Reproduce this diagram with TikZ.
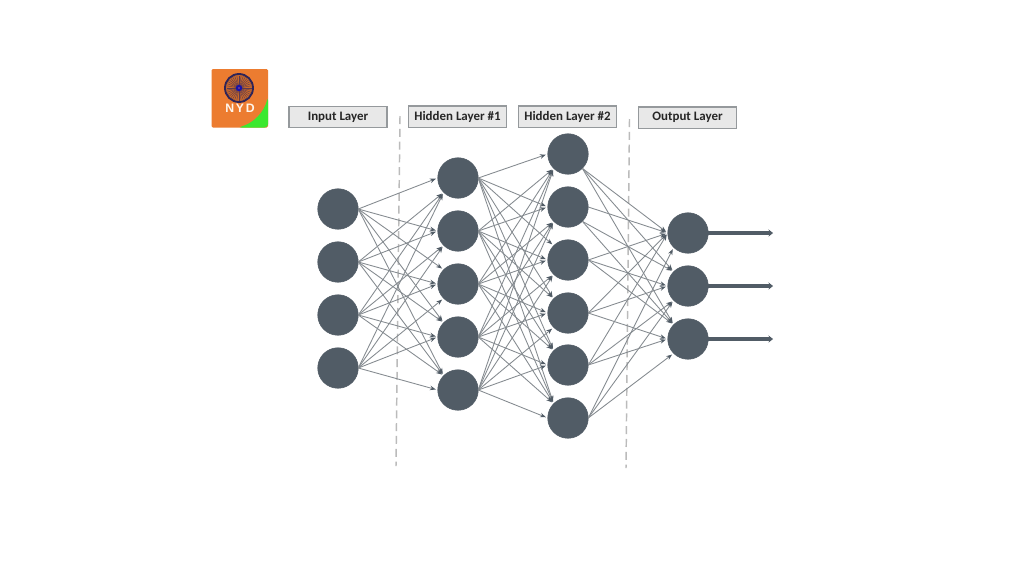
\documentclass[tikz,border=0pt]{standalone}
\usepackage{fontspec}
\setmainfont{Carlito}
\newfontfamily\logofont[LetterSpace=14]{Liberation Sans}
\usetikzlibrary{arrows.meta}
\definecolor{neuron}{HTML}{515C66}
\definecolor{edgecol}{HTML}{858B90}
\definecolor{boxfill}{HTML}{E8E8E8}
\definecolor{boxline}{HTML}{95999C}
\definecolor{dashcol}{HTML}{BBBBBB}
\definecolor{logoor}{HTML}{EC7C30}
\definecolor{logogr}{HTML}{3BE82E}
\definecolor{wheel}{HTML}{2E2458}
\tikzset{
  neuronnode/.style={circle,fill=neuron,draw=neuron,minimum size=30.4pt,inner sep=0pt,outer sep=0pt},
  layerbox/.style={draw=boxline,line width=0.8pt,fill=boxfill,minimum width=73.5pt,minimum height=15.8pt,inner sep=0pt,font=\bfseries\fontsize{9.7}{10}\selectfont,text=black!85},
  link/.style={draw=edgecol,line width=0.65pt,shorten >=1.5pt,-{Stealth[length=4.4pt,width=3.4pt,color=neuron]}},
  outlink/.style={draw=neuron,line width=3.1pt,-{Stealth[length=3.4pt,width=5.4pt]}},
  sep/.style={draw=dashcol,line width=1.1pt,dash pattern=on 6pt off 3.6pt},
}
\begin{document}
\begin{tikzpicture}[x=0.75pt,y=-0.75pt]
\useasboundingbox (0,0) rectangle (1024,576);
\fill[white] (0,0) rectangle (1024,576);
% logo
\fill[logoor,rounded corners=1pt] (211.5,69) rectangle (268,127.5);
\fill[logogr,rounded corners=2.5pt] (268,97) .. controls (264,112) and (254,123) .. (238,127.5) -- (268,127.5) -- cycle;
\fill[logoor!85!black] (239,88) circle (13.5);
\foreach \a in {0,10,...,350}{\draw[wheel!75!logoor,line width=0.3pt] (239,88) -- ++(\a:12.5);}
\draw[wheel,line width=1.4pt] (239,88) circle (14);
\fill[blue!50!wheel] (239,88) circle (3.2);
\fill[logoor!50!blue] (239,88) circle (1.2);
\node[font=\logofont\bfseries\fontsize{9.2}{10}\selectfont,text=white!92!orange,inner sep=0pt] (logotext) at (240,108.5) {NYD};
% boxes
\node[layerbox] (bi) at (338,117) {\raisebox{-1.1pt}{Input Layer}};
\node[layerbox] (bh1) at (457.5,116.5) {\raisebox{-1.1pt}{Hidden Layer \#1}};
\node[layerbox] (bh2) at (567.5,116.5) {\raisebox{-1.1pt}{Hidden Layer \#2}};
\node[layerbox] (bo) at (687.5,117.5) {\raisebox{-1.1pt}{Output Layer}};
% separators
\coordinate (s1a) at (400,116); \coordinate (s1b) at (396,466);
\coordinate (s2a) at (629.5,119); \coordinate (s2b) at (626,468);
\draw[sep] (s1a) -- (s1b);
\draw[sep] (s2a) -- (s2b);
% neurons
\foreach \n/\y in {1/209,2/262,3/315,4/368} \node[neuronnode] (i\n) at (338,\y) {};
\foreach \n/\y in {1/178,2/231,3/284,4/337,5/390} \node[neuronnode] (a\n) at (458,\y) {};
\foreach \n/\y in {1/154,2/207,3/260,4/313,5/365,6/418} \node[neuronnode] (b\n) at (568,\y) {};
\foreach \n/\y in {1/233,2/286,3/339} \node[neuronnode] (o\n) at (688,\y) {};
% links: input -> hidden 1
\foreach \p in {1,...,4}\foreach \q in {1,...,5}{
  \pgfmathtruncatemacro\dd{\q-\p}
  \ifnum\dd<0 \def\an{225}\else\ifnum\dd>1 \def\an{135}\else\def\an{180}\fi\fi
  \draw[link] (i\p.east) -- (a\q.\an);
}
% links: hidden 1 -> hidden 2
\foreach \p in {1,...,5}\foreach \q in {1,...,6}{
  \pgfmathtruncatemacro\dd{\q-\p}
  \ifnum\dd<0 \def\an{225}\else\ifnum\dd>1 \def\an{135}\else\def\an{180}\fi\fi
  \draw[link] (a\p.east) -- (b\q.\an);
}
% links: hidden 2 -> output
\foreach \s/\t in {
  b1.-45/o1.180, b2.0/o1.180, b3.0/o1.180, b4.0/o1.180, b5.0/o1.180, b6.0/o1.225,
  b1.-45/o2.135, b2.-45/o2.135, b3.0/o2.180, b4.0/o2.180, b5.0/o2.225, b6.0/o2.225,
  b1.-45/o3.135, b2.-45/o3.135, b3.0/o3.135, b4.0/o3.180, b5.0/o3.180, b6.0/o3.225}
  \draw[link] (\s) -- (\t);
% outputs
\foreach \n/\y in {1/233,2/286,3/339}{
  \coordinate (e\n) at (773,\y);
  \draw[outlink] (o\n) -- (e\n);
}
\end{tikzpicture}
\end{document}
